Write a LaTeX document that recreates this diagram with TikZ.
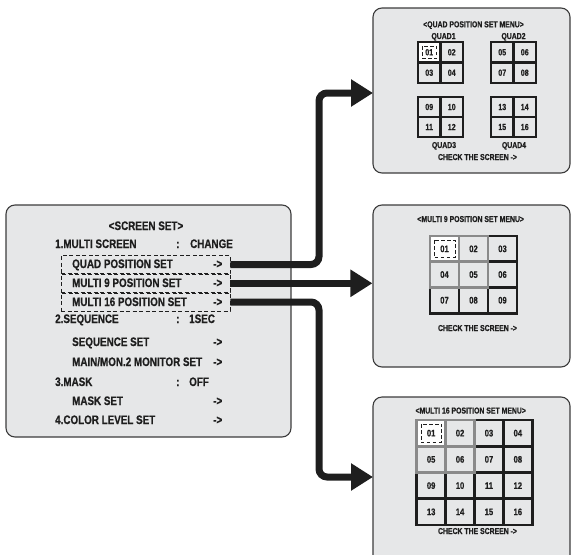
\documentclass[tikz,border=0pt]{standalone}
\usepackage{fontspec}
\newfontfamily\osd[FakeStretch=0.8,FakeBold=0.6]{Liberation Sans}
\usetikzlibrary{arrows.meta}
\definecolor{pfill}{HTML}{E6E7E8}
\definecolor{pedge}{HTML}{3C3C3C}
\definecolor{ink}{HTML}{1E1E1E}
\definecolor{gline}{HTML}{8A8A8A}
\tikzset{
 panel/.style={draw=pedge, fill=pfill, line width=1.1pt, rounded corners=9pt, inner sep=0pt},
 lt/.style={font=\osd\bfseries\fontsize{12.3}{12.3}\selectfont, text=ink, inner sep=0pt, anchor=base west},
 st/.style={font=\osd\bfseries\fontsize{8.6}{8.6}\selectfont, text=ink, inner sep=0pt, anchor=base},
 num/.style={font=\osd\bfseries\fontsize{9.5}{9.5}\selectfont, text=ink, inner sep=0pt},
 dbox/.style={draw=ink, dash pattern=on 4pt off 2.5pt, line width=0.8pt, inner sep=0pt},
 blk/.style={draw=ink, line width=2.8pt},
 gry/.style={draw=gline, line width=2.8pt},
 cursorbox/.style={draw=ink, dash pattern=on 3.5pt off 2.5pt, line width=1pt},
 arr/.style={draw=ink, line width=7pt, rounded corners=8pt, -{Triangle[length=22pt,width=26pt]}},
}
% x0, y0, cell width, row height, n (n x n black grid)
\newcommand\cgrid[5]{%
 \pgfmathsetmacro\cgx{#1+#5*#3}\pgfmathsetmacro\cgy{#2+#5*#4}%
 \fill[white] (#1,#2) rectangle ({#1+#3},{#2+#4});
 \foreach \k in {1,...,#5}{
   \draw[blk] ({#1+\k*#3},#2) -- ({#1+\k*#3},\cgy);
   \draw[blk] (#1,{#2+\k*#4}) -- (\cgx,{#2+\k*#4});
 }
 \draw[blk] (#1,#2) rectangle (\cgx,\cgy);
}
\newcommand\gblock[4]{%
 \draw[gry] (#1,#2) rectangle ({#1+2*#3},{#2+2*#4});
 \draw[gry] ({#1+#3},#2) -- ({#1+#3},{#2+2*#4});
 \draw[gry] (#1,{#2+#4}) -- ({#1+2*#3},{#2+#4});
}
\newcommand\cursorat[4]{%
 \draw[cursorbox] ({#1+4.5},{#2+4}) rectangle ({#1+#3-4},{#2+#4-4});
}
\begin{document}
\begin{tikzpicture}[x=1pt,y=-1pt]
\useasboundingbox (0,0) rectangle (572,554);
\clip (0,0) rectangle (572,554);

% panels
\node[panel, minimum width=285pt, minimum height=232pt] (main) at (148.5,321) {};
\node[panel, minimum width=197pt, minimum height=165pt] (quadp) at (471.5,90.5) {};
\node[panel, minimum width=197pt, minimum height=162pt] (ninep) at (471.5,286) {};
\node[panel, minimum width=197pt, minimum height=170pt] (sixp) at (471.5,482) {};

% dashed selection boxes
\node[dbox, minimum width=169pt, minimum height=18.5pt] (box1) at (145.5,264.5) {};
\node[dbox, minimum width=169pt, minimum height=18pt] (box2) at (145.5,283.3) {};
\node[dbox, minimum width=169pt, minimum height=18pt] (box3) at (145.5,302) {};

% main menu text
\node[lt, anchor=base] (t0) at (146,230) {<SCREEN SET>};
\node[lt] (t1) at (55,248) {1.MULTI SCREEN};
\node[lt] (t1c) at (176,248) {:};
\node[lt] (t1v) at (190,248) {CHANGE};
\node[lt] (t2) at (72,268) {QUAD POSITION SET};
\node[lt] (t2a) at (213,268) {->};
\node[lt] (t3) at (72,287) {MULTI 9 POSITION SET};
\node[lt] (t3a) at (213,287) {->};
\node[lt] (t4) at (72,306) {MULTI 16 POSITION SET};
\node[lt] (t4a) at (213,306) {->};
\node[lt] (t5) at (55,323) {2.SEQUENCE};
\node[lt] (t5c) at (176,323) {:};
\node[lt] (t5v) at (189,323) {1SEC};
\node[lt] (t6) at (72,346) {SEQUENCE SET};
\node[lt] (t6a) at (213,346) {->};
\node[lt] (t7) at (72,366) {MAIN/MON.2 MONITOR SET};
\node[lt] (t7a) at (213,366) {->};
\node[lt] (t8) at (55,386) {3.MASK};
\node[lt] (t8c) at (176,386) {:};
\node[lt] (t8v) at (189,386) {OFF};
\node[lt] (t9) at (72,405) {MASK SET};
\node[lt] (t9a) at (213,405) {->};
\node[lt] (t10) at (55,424) {4.COLOR LEVEL SET};
\node[lt] (t10a) at (213,424) {->};

% arrows
\coordinate (bendx) at (319,0);
\coordinate (tip1) at (373,93);
\coordinate (tip3) at (373,477);
\draw[arr] (box1.east) -| (bendx |- tip1) -- (tip1);
\draw[arr] (box2.east) -- (box2.east -| ninep.west);
\draw[arr] (box3.east) -| (bendx |- tip3) -- (tip3);

% ---- QUAD panel ----
\node[st] (qt) at (473.5,27.3) {<QUAD POSITION SET MENU>};
\node[st] (q1l) at (443.5,39) {QUAD1};
\node[st] (q2l) at (513.5,39) {QUAD2};
\node[st] (q3l) at (444,148) {QUAD3};
\node[st] (q4l) at (514,148) {QUAD4};
\node[st] (qc) at (477.5,160) {CHECK THE SCREEN ->};
\cgrid{418}{42}{22.5}{20.5}{2}
\cgrid{491}{42}{22.5}{20.5}{2}
\cgrid{418}{97}{22.5}{20}{2}
\cgrid{491}{97}{22.5}{20}{2}
% only QUAD1 cell 01 stays white
\fill[pfill] (492.4,43.4) rectangle (512.1,61.3);
\fill[pfill] (419.4,98.4) rectangle (439.1,115.6);
\fill[pfill] (492.4,98.4) rectangle (512.1,115.6);
\cursorat{418}{42}{22.5}{20.5}
\foreach \lab/\xx/\yy in {01/429.25/52.25,02/451.75/52.25,03/429.25/72.75,04/451.75/72.75,
  05/502.25/52.25,06/524.75/52.25,07/502.25/72.75,08/524.75/72.75,
  09/429.25/107,10/451.75/107,11/429.25/127,12/451.75/127,
  13/502.25/107,14/524.75/107,15/502.25/127,16/524.75/127}
  \node[num, font=\osd\bfseries\fontsize{8.8}{8.8}\selectfont] (q-\lab) at (\xx,\yy) {\lab};

% ---- MULTI 9 panel ----
\node[st] (nt) at (470.7,222) {<MULTI 9 POSITION SET MENU>};
\cgrid{430}{236}{29}{25.7}{3}
\gblock{430}{236}{29}{25.7}
\cursorat{430}{236}{29}{25.7}
\foreach \lab [count=\i from 0] in {01,02,03,04,05,06,07,08,09}{
  \pgfmathtruncatemacro\cc{mod(\i,3)}
  \pgfmathtruncatemacro\rr{div(\i,3)}
  \node[num] (n-\lab) at ({430+(\cc+0.5)*29},{236+(\rr+0.5)*25.7}) {\lab};
}
\node[st] (nc) at (477.5,331) {CHECK THE SCREEN ->};

% ---- MULTI 16 panel ----
\node[st] (st16) at (470.7,413.5) {<MULTI 16 POSITION SET MENU>};
\cgrid{416.7}{420}{28.9}{26.25}{4}
\gblock{416.7}{420}{28.9}{26.25}
\cursorat{416.7}{420}{28.9}{26.25}
\foreach \lab [count=\i from 0] in {01,02,03,04,05,06,07,08,09,10,11,12,13,14,15,16}{
  \pgfmathtruncatemacro\cc{mod(\i,4)}
  \pgfmathtruncatemacro\rr{div(\i,4)}
  \node[num] (s-\lab) at ({416.7+(\cc+0.5)*28.9},{420+(\rr+0.5)*26.25}) {\lab};
}
\node[st] (sc) at (477.5,534) {CHECK THE SCREEN ->};
\end{tikzpicture}
\end{document}
